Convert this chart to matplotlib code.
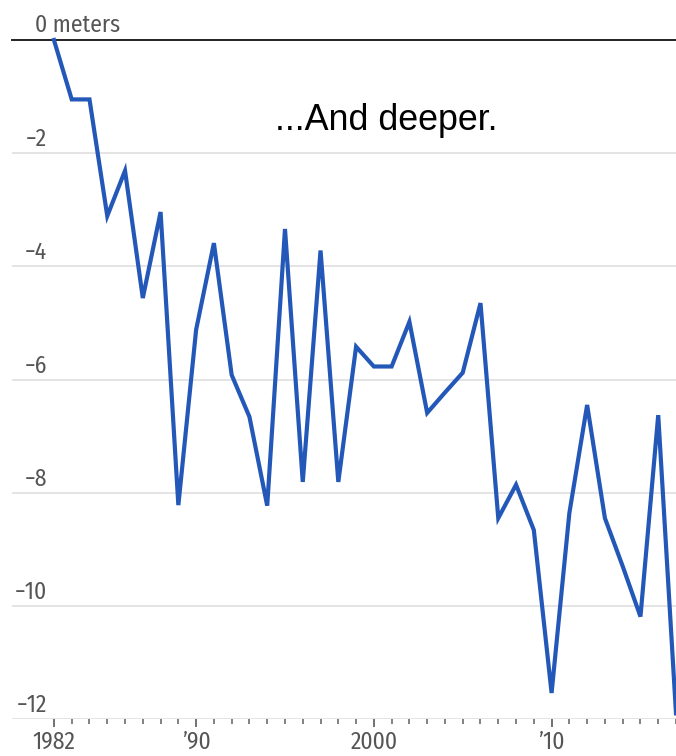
import matplotlib
matplotlib.use("Agg")
import matplotlib.pyplot as plt

# Depth below the starting level, by year (meters)
years = list(range(1982, 2018))
depth = [0, -1.05, -1.05, -3.11, -2.31, -4.56, -3.04, -8.22, -5.12, -3.59,
         -5.92, -6.66, -8.23, -3.34, -7.81, -3.72, -7.81, -5.42, -5.77, -5.77,
         -4.98, -6.59, -6.23, -5.88, -4.65, -8.45, -7.86, -8.66, -11.54, -8.36,
         -6.45, -8.45, -9.30, -10.19, -6.63, -11.9]

y_levels = [-2, -4, -6, -8, -10, -12]
y_labels = ["\u22122", "\u22124", "\u22126", "\u22128", "\u221210", "\u221212"]
x_major = [1982, 1990, 2000, 2010]
x_major_labels = ["1982", "\u201990", "2000", "\u201910"]

W, H = 676, 756
narrow = ["Fira Sans Condensed", "Liberation Sans Narrow", "DejaVu Sans"]
label_color = "#555555"
fs = 17

fig = plt.figure(figsize=(W / 100, H / 100), dpi=100)
ax = fig.add_axes([12 / W, 1 - 719 / H, 664 / W, 679 / H])
ax.set_xlim(1979.64, 2016.90)
ax.set_ylim(-12, 0)

for s in ax.spines.values():
    s.set_visible(False)

# gridlines and the black zero line
for y in y_levels:
    ax.axhline(y, color="#dcdcdc", lw=1.1, zorder=0)
ax.axhline(0, color="#222222", lw=1.4, zorder=1, clip_on=False)

ax.plot(years, depth, color="#2358b8", lw=3.0, clip_on=False, zorder=3,
        solid_joinstyle="miter")

# y labels sit just above their gridlines
for y, lab in zip(y_levels, y_labels):
    ax.annotate(lab, xy=(0, y), xycoords=("axes fraction", "data"),
                xytext=(25.2, 5.0), textcoords="offset points",
                ha="right", va="baseline", fontsize=fs,
                family=narrow, color=label_color)
ax.annotate("0 meters", xy=(0, 0), xycoords=("axes fraction", "data"),
            xytext=(16.6, 5.6), textcoords="offset points",
            ha="left", va="baseline", fontsize=fs,
            family=narrow, color=label_color)

# x axis ticks
ax.set_yticks([])
ax.set_xticks(x_major)
ax.set_xticklabels(x_major_labels, family=narrow, fontsize=fs,
                   color=label_color)
ax.set_xticks(years, minor=True)
ax.tick_params(axis="x", which="major", length=6, width=1.3,
               color="#666666", pad=2.5)
ax.tick_params(axis="x", which="minor", length=3.5, width=1.3,
               color="#777777")

fig.text(275 / W, 1 - 130 / H, "...And deeper.", fontsize=25.8,
         family=["Liberation Sans", "DejaVu Sans"], color="black",
         ha="left", va="baseline")

fig.savefig("out.png", dpi=100)
